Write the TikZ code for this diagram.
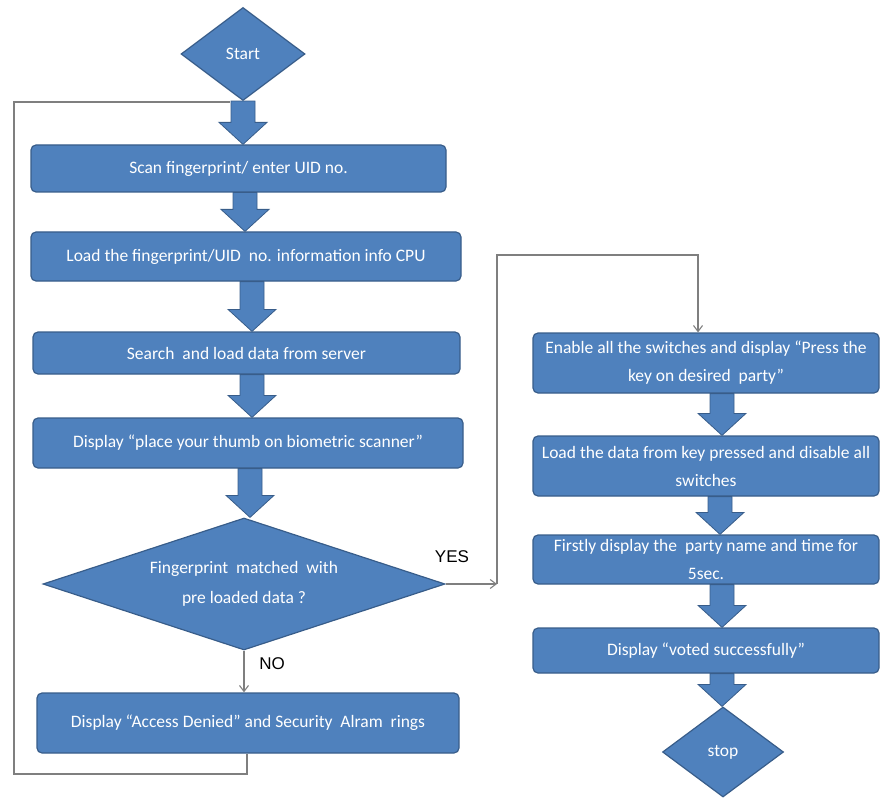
\documentclass[tikz,border=0pt]{standalone}
\usepackage{fontspec}
\setmainfont{Carlito}
\newfontfamily\labfont{Liberation Sans}
\usetikzlibrary{shapes.geometric,arrows.meta,calc}
\definecolor{boxfill}{HTML}{4F81BD}
\definecolor{boxline}{HTML}{385D8A}
\definecolor{conn}{HTML}{7F7F7F}
\tikzset{
  flowbox/.style={draw=boxline, line width=1.2pt, fill=boxfill, rounded corners=5pt,
    text=white, align=center, inner sep=1pt, font=\fontsize{17.5}{28}\selectfont},
  flowdia/.style={diamond, draw=boxline, line width=1.2pt, fill=boxfill, text=white,
    align=center, inner sep=0pt, font=\fontsize{17.5}{30}\selectfont},
  conline/.style={draw=conn, line width=1.1pt},
  contip/.style={-{Straight Barb[length=6pt,width=9pt]}},
  fatarrow/.style={fill=boxfill, draw=boxline, line width=0.8pt},
  lab/.style={font=\labfont\fontsize{17}{17}\selectfont, text=black}
}
\newcommand\barrow[3]{%
  \path let \p1=(#2.south), \p2=(#3.north), \p3=(#1,0) in
    [fatarrow] (\x3-12pt,\y1) -- (\x3+12pt,\y1) -- (\x3+12pt,\y2+22pt)
    -- (\x3+24pt,\y2+22pt) -- (\x3,\y2) -- (\x3-24pt,\y2+22pt)
    -- (\x3-12pt,\y2+22pt) -- cycle;}
\begin{document}
\begin{tikzpicture}[x=1pt,y=-1pt]
\useasboundingbox (0,0) rectangle (882,799);
% nodes
\node[flowdia, minimum width=124pt, minimum height=93pt] (start) at (243,54) {Start};
\node[flowbox, minimum width=415pt, minimum height=47pt] (b1) at (238.5,168.5) {Scan fingerprint/ enter UID no.};
\node[flowbox, minimum width=430pt, minimum height=49pt] (b2) at (246,256.5) {Load the fingerprint/UID\ \ no. information info CPU};
\node[flowbox, minimum width=427pt, minimum height=42pt] (b3) at (246.5,353) {Search\ \ and load data from server};
\node[flowbox, minimum width=430pt, minimum height=50pt] (b4) at (248,443) {Display ``place your thumb on biometric scanner''};
\node[flowdia, aspect=3, minimum width=402pt, minimum height=132pt] (dec) at (244,584) {Fingerprint\ \ matched\ \ with\\pre loaded data ?};
\node[flowbox, minimum width=422pt, minimum height=60pt] (b5) at (248,723) {Display ``Access Denied'' and Security\ \ Alram\ \ rings};
\node[flowbox, minimum width=346pt, minimum height=60pt] (b6) at (706,363) {Enable all the switches and display ``Press the\\key on desired\ \ party''};
\node[flowbox, minimum width=346pt, minimum height=60pt] (b7) at (706,466) {Load the data from key pressed and disable all\\switches};
\node[flowbox, minimum width=346pt, minimum height=49pt] (b8) at (706,559.5) {Firstly display the\ \ party name and time for\\5sec.};
\node[flowbox, minimum width=346pt, minimum height=45pt] (b9) at (706,650.5) {Display ``voted successfully''};
\node[flowdia, minimum width=121pt, minimum height=90pt] (stop) at (723,752) {stop};
% labels
\node[lab] (yes) at (452,557) {YES};
\node[lab] (no) at (272,664) {NO};
% loop-back connector
\coordinate (l1) at (247,774);
\coordinate (l2) at (14,774);
\coordinate (l3) at (14,102);
\coordinate (l4) at (230,102);
\draw[conline] (b5.south -| l1) -- (l1) -- (l2) -- (l3) -- (l4);
% NO connector
\draw[conline, contip] (dec.south) -- (dec.south |- b5.north);
% YES connector
\coordinate (y1) at (497,584);
\coordinate (y2) at (497,255);
\coordinate (y3) at (698,255);
\draw[conline, contip] (dec.east) -- (y1);
\draw[conline, contip] (y1) -- (y2) -- (y3) -- (y3 |- b6.north);
% block arrows
\barrow{243}{start}{b1}
\barrow{245}{b1}{b2}
\barrow{252}{b2}{b3}
\barrow{252}{b3}{b4}
\barrow{250}{b4}{dec}
\barrow{722}{b6}{b7}
\barrow{720}{b7}{b8}
\barrow{722}{b8}{b9}
\barrow{722}{b9}{stop}
\end{tikzpicture}
\end{document}
